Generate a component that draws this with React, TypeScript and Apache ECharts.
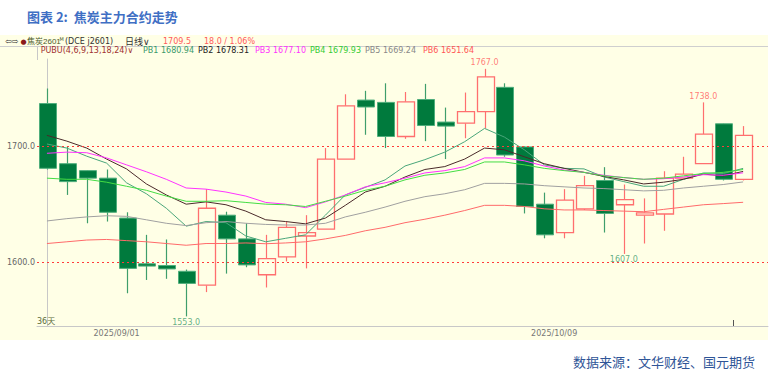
import React, { useEffect, useRef } from "react";
import * as echarts from "echarts";

// ---- data ----
const dates = [
  "2025/08/27", "2025/08/28", "2025/08/29", "2025/09/01", "2025/09/02", "2025/09/03",
  "2025/09/04", "2025/09/05", "2025/09/08", "2025/09/09", "2025/09/10", "2025/09/11",
  "2025/09/12", "2025/09/15", "2025/09/16", "2025/09/17", "2025/09/18", "2025/09/19",
  "2025/09/22", "2025/09/23", "2025/09/24", "2025/09/25", "2025/09/26", "2025/09/29",
  "2025/09/30", "2025/10/09", "2025/10/10", "2025/10/13", "2025/10/14", "2025/10/15",
  "2025/10/16", "2025/10/17", "2025/10/20", "2025/10/21", "2025/10/22", "2025/10/23",
];
const opens = [1737, 1685, 1679, 1672.5, 1638, 1598.5, 1597, 1592, 1580, 1640.5, 1620, 1589, 1604.5, 1622.5, 1628.5, 1689, 1740, 1738, 1708.5, 1740.5, 1721, 1720, 1730, 1751, 1699.5, 1650, 1625.5, 1646, 1670.5, 1649.5, 1640.5, 1641.5, 1672.5, 1685, 1719.5, 1671.5];
const closes = [1681, 1669.5, 1672.5, 1643, 1594.5, 1596.5, 1594, 1581.5, 1646.5, 1620, 1597.5, 1603, 1630, 1625.5, 1689, 1735, 1734, 1708.5, 1738.5, 1718, 1717.5, 1730, 1760, 1692.5, 1648, 1623.5, 1653.5, 1666, 1642, 1654, 1642.5, 1672.5, 1676, 1710.5, 1671.5, 1709.5];
const lows = [1680, 1658, 1633.5, 1635, 1573, 1584.5, 1585.5, 1553, 1574, 1590, 1595.5, 1578, 1600.5, 1594.5, 1628.5, 1689, 1710, 1698.5, 1706.5, 1704.5, 1689, 1707, 1715.5, 1691, 1642, 1620.5, 1620.5, 1645, 1625.5, 1607, 1616, 1627, 1672, 1685, 1670.5, 1670.5];
const highs = [1750, 1700, 1679, 1680, 1643, 1623.5, 1619.5, 1593.5, 1663, 1643.5, 1633.5, 1623.5, 1634.5, 1640.5, 1698.5, 1745, 1748, 1754.5, 1747, 1754, 1733.5, 1746.5, 1767, 1754.5, 1700, 1660, 1663, 1674.5, 1682, 1667, 1655, 1678.5, 1691, 1738, 1719.5, 1717.5];

const pb1 = [1702, 1698.5, 1691.5, 1685.5, 1668.5, 1659, 1646.5, 1631, 1635, 1634, 1622.5, 1617.5, 1620.5, 1623.5, 1640.5, 1658, 1664.5, 1671, 1683, 1688.5, 1695, 1704, 1715.5, 1708, 1697, 1684, 1681, 1680.5, 1673.5, 1669.5, 1665.5, 1665.5, 1671.5, 1677, 1676.5, 1680.94];
const pb2 = [1709.5, 1704.5, 1698.5, 1689, 1680.5, 1667.5, 1658, 1650, 1652, 1649.5, 1644, 1636.5, 1635, 1633, 1638, 1649, 1660.5, 1665.5, 1673.5, 1680, 1682.5, 1689, 1698.5, 1697, 1691, 1685, 1681, 1677.5, 1674, 1671, 1667.5, 1669, 1671.5, 1676, 1674.5, 1678.31];
const pb3 = [1694, 1695, 1694.5, 1690, 1684, 1678, 1671.5, 1664, 1663, 1660.5, 1657, 1651.5, 1650, 1647, 1652, 1658, 1665, 1668.5, 1672.5, 1677, 1679, 1682.5, 1690, 1690, 1687.5, 1683, 1679.5, 1677.5, 1675, 1673, 1671.5, 1672, 1673.5, 1675.5, 1675, 1677.10];
const pb4 = [1672.5, 1671.5, 1671.5, 1669, 1665.5, 1662, 1657, 1652.5, 1652.5, 1653, 1651.5, 1650, 1649.5, 1648, 1652.5, 1657, 1662, 1665.5, 1671, 1675, 1677, 1680, 1686.5, 1686.5, 1684, 1681, 1679, 1677.5, 1674.5, 1673, 1671.5, 1672.5, 1674.5, 1676.5, 1677.5, 1679.93];
const pb5 = [1635.5, 1637.5, 1639, 1640, 1639.5, 1636.5, 1633.5, 1631.5, 1634, 1635, 1633.5, 1632.5, 1632, 1632, 1633.5, 1639, 1643, 1647.5, 1652.5, 1656.5, 1659, 1662.5, 1668, 1668, 1667.5, 1666, 1665, 1664, 1663.5, 1662.5, 1661.5, 1662, 1664, 1665.5, 1667, 1669.24];
const pb6 = [1616, 1617.5, 1619, 1619.5, 1618.5, 1617.5, 1616, 1614.5, 1616, 1616, 1616.5, 1615.8, 1616.5, 1617.5, 1620, 1623, 1627, 1630, 1634, 1637, 1640.5, 1644.5, 1649, 1649, 1648, 1646, 1645, 1645, 1644.5, 1644, 1643.5, 1645.5, 1647.5, 1649.5, 1650.5, 1651.64];

const pbNames = ["PB1", "PB2", "PB3", "PB4", "PB5", "PB6"];
const pbSeries = [pb1, pb2, pb3, pb4, pb5, pb6];
const pbColors = ["#4aa67a", "#4a2a2a", "#ff33ff", "#44dd44", "#a0a0a0", "#ff6a6a"];
const pbTextColors = ["#3a9a6a", "#222222", "#ff33ff", "#33cc33", "#888888", "#ff5555"];
const pbTextX = [143, 198, 255, 310, 365, 423];

const yTickValues = [1600, 1700];
const dateLabelIdx = [3, 25];
const hiMarks = [22, 33];
const loMarks = [7, 29];
const lastPrice = "1709.5";
const change = "18.0 / 1.06%";

const BG = "#FFFFE6";
const UP = "#ff6f6f";
const DOWN_FILL = "#007a3d";
const DOWN_EDGE = "#4fae7c";
const SMALL = "8px 'DejaVu Sans', 'Noto Sans CJK SC', sans-serif";
const CJK9 = "9px 'DejaVu Sans', 'Noto Sans CJK SC', sans-serif";
const NARROW = "8px 'Liberation Sans', 'Noto Sans CJK SC', sans-serif";

export default function App() {
  const ref = useRef<HTMLDivElement>(null);
  useEffect(() => {
    const chart = echarts.init(ref.current as HTMLDivElement, null, { renderer: "svg" });
    const n = opens.length;
    const candleData = opens.map((o, i) => [i, o, closes[i], lows[i], highs[i]]);

    const txt = (text: string, x: number, y: number, fill: string, font = SMALL, align = "left") => ({
      type: "text",
      z: 100,
      style: { text, x, y, fill, font, align, verticalAlign: "middle" },
    });

    const graphic: any[] = [
      { type: "rect", z: -100, shape: { x: 0, y: 35, width: 768, height: 305 }, style: { fill: BG } },
      { type: "line", z: -50, shape: { x1: 0, y1: 46.5, x2: 768, y2: 46.5 }, style: { stroke: "#cfcfcf", lineWidth: 1 } },
      { type: "line", z: -50, shape: { x1: 37.5, y1: 47, x2: 37.5, y2: 60 }, style: { stroke: "#c8c8c8", lineWidth: 1 } },
      txt("图表 2:  焦炭主力合约走势", 27, 16, "#3f6fc4", "bold 13px 'Noto Sans CJK SC', sans-serif"),
      txt("⇦⇨", 5, 41.5, "#333333", SMALL),
      txt("●", 20.5, 41.5, "#8b1a1a", "7px 'DejaVu Sans', sans-serif"),
      txt("焦炭2601", 27, 41.5, "#4a5a2a", NARROW),
      txt("M", 59.5, 38.5, "#4a5a2a", "5px 'DejaVu Sans', sans-serif"),
      txt("(DCE j2601)", 65, 41.5, "#333333", SMALL),
      txt("日线∨", 125, 41.5, "#333333", CJK9),
      txt(lastPrice, 163, 41.5, "#ff5a5a", SMALL),
      txt(change, 204, 41.5, "#ff5a5a", SMALL),
      txt("PUBU(4,6,9,13,18,24)∨", 40.7, 50.7, "#a03030", SMALL),
      ...pbNames.map((nm, k) =>
        txt(`${nm} ${pbSeries[k][pbSeries[k].length - 1].toFixed(2)}`, pbTextX[k], 50.7, pbTextColors[k], SMALL)
      ),
      txt(`${n}天`, 37, 321, "#5a6a3a", SMALL),
      txt("数据来源：文华财经、国元期货", 755, 361, "#2f5597", "13px 'Noto Sans CJK SC', sans-serif", "right"),
    ];

    const option: any = {
      animation: false,
      backgroundColor: "#ffffff",
      grid: { left: 37, right: 11, top: 59, bottom: 57, show: false },
      xAxis: {
        type: "value",
        min: -0.5,
        max: 36.25,
        axisLine: { show: true, lineStyle: { color: "#c8c8c8", width: 1 } },
        splitLine: { show: false },
        axisTick: { show: true, inside: true, length: 6, customValues: [34.5], lineStyle: { color: "#555555" } },
        axisLabel: {
          show: true,
          customValues: dateLabelIdx.map((d) => d + 0.5),
          formatter: (v: number) => dates[Math.floor(v)],
          color: "#777777",
          fontFamily: "DejaVu Sans",
          fontSize: 8,
          margin: 3,
        },
      },
      yAxis: {
        type: "value",
        min: 1544.7,
        max: 1775.5,
        axisLine: { show: true, lineStyle: { color: "#c8c8c8", width: 1 } },
        splitLine: { show: false },
        axisTick: { show: false },
        axisLabel: {
          show: true,
          customValues: yTickValues,
          formatter: (v: number) => v.toFixed(1),
          color: "#666666",
          fontFamily: "DejaVu Sans",
          fontSize: 8,
          margin: 2,
        },
      },
      graphic,
      series: [
        {
          type: "custom",
          z: 2,
          encode: { x: 0, y: [1, 2, 3, 4] },
          data: candleData,
          renderItem: (params: any, api: any) => {
            const i = api.value(0);
            const o = api.value(1), c = api.value(2), l = api.value(3), h = api.value(4);
            const pO = api.coord([i, o]);
            const pC = api.coord([i, c]);
            const pL = api.coord([i, l]);
            const pH = api.coord([i, h]);
            const bw = api.size([1, 0])[0] * 0.87;
            const cx = Math.round(pO[0]) + 0.5;
            const up = c >= o;
            const top = Math.min(pO[1], pC[1]);
            const bot = Math.max(pO[1], pC[1]);
            const x0 = Math.round(cx - bw / 2) + 0.5;
            const hgt = Math.max(bot - top, 1.5);
            if (up) {
              return {
                type: "group",
                children: [
                  { type: "line", shape: { x1: cx, y1: pH[1], x2: cx, y2: top }, style: { stroke: UP, lineWidth: 1.2 } },
                  { type: "line", shape: { x1: cx, y1: top + hgt, x2: cx, y2: pL[1] }, style: { stroke: UP, lineWidth: 1.2 } },
                  { type: "rect", shape: { x: x0, y: top, width: Math.round(bw), height: hgt }, style: { fill: BG, stroke: UP, lineWidth: 1.3 } },
                ],
              };
            }
            return {
              type: "group",
              children: [
                { type: "line", shape: { x1: cx, y1: pH[1], x2: cx, y2: pL[1] }, style: { stroke: "#3f9e6c", lineWidth: 1.2 } },
                { type: "rect", shape: { x: x0, y: top, width: Math.round(bw), height: hgt }, style: { fill: DOWN_FILL, stroke: DOWN_EDGE, lineWidth: 1 } },
              ],
            };
          },
        },
        ...pbSeries.map((arr, k) => ({
          type: "line",
          name: pbNames[k],
          z: 3,
          showSymbol: false,
          symbol: "none",
          silent: true,
          data: arr.map((v, i) => [i, v]),
          lineStyle: { color: pbColors[k], width: 1 },
          markLine:
            k === 5
              ? {
                  silent: true,
                  symbol: "none",
                  label: { show: false },
                  lineStyle: { color: "#ff3b3b", type: [2, 3], width: 1 },
                  data: yTickValues.map((v) => ({ yAxis: v })),
                }
              : undefined,
        })),
        {
          type: "scatter",
          z: 5,
          symbolSize: 0,
          silent: true,
          data: hiMarks.map((i) => [i, highs[i]]),
          label: {
            show: true,
            position: "top",
            distance: 2,
            formatter: (p: any) => p.value[1].toFixed(1),
            color: "#ff5a5a",
            fontFamily: "DejaVu Sans",
            fontSize: 8,
          },
        },
        {
          type: "scatter",
          z: 5,
          symbolSize: 0,
          silent: true,
          data: loMarks.map((i) => [i, lows[i]]),
          label: {
            show: true,
            position: "bottom",
            distance: 2,
            formatter: (p: any) => p.value[1].toFixed(1),
            color: "#3a9a6a",
            fontFamily: "DejaVu Sans",
            fontSize: 8,
          },
        },
      ],
    };
    chart.setOption(option);
    return () => chart.dispose();
  }, []);
  return <div ref={ref} style={{ position: "absolute", left: 0, top: 0, width: 779, height: 383 }} />;
}
